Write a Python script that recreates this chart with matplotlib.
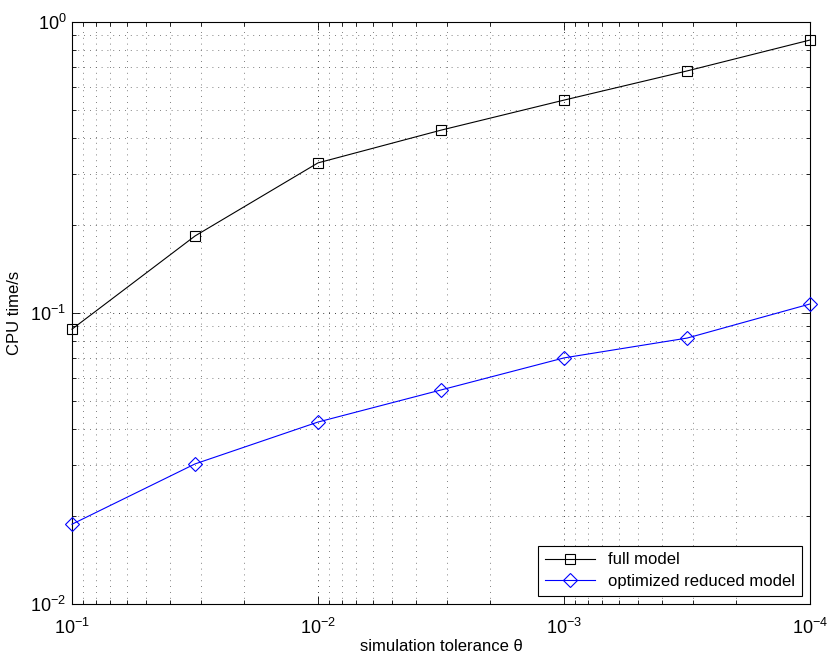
import matplotlib

matplotlib.use("Agg")
import matplotlib.pyplot as plt
from matplotlib.ticker import LogLocator, NullFormatter

plt.rcParams["font.family"] = ["Liberation Sans", "DejaVu Sans"]

# Simulation tolerance theta (x axis runs from 1e-1 down to 1e-4)
tolerance = [1e-1, 3.16e-2, 1e-2, 3.16e-3, 1e-3, 3.16e-4, 1e-4]
full_model = [0.088, 0.184, 0.328, 0.425, 0.539, 0.679, 0.867]
reduced_model = [0.0188, 0.0303, 0.0422, 0.0544, 0.0701, 0.0820, 0.1074]

fig = plt.figure(figsize=(8.31, 6.56), dpi=100)
ax = fig.add_axes([72 / 831, 1 - 604 / 656, (810 - 72) / 831, (604 - 22) / 656])

ax.plot(tolerance, full_model, color="black", linewidth=0.8, marker="s",
        markersize=7, markerfacecolor="none", markeredgecolor="black",
        markeredgewidth=0.8, label="full model", clip_on=False, zorder=3)
ax.plot(tolerance, reduced_model, color="blue", linewidth=0.8, marker="D",
        markersize=7, markerfacecolor="none", markeredgecolor="blue",
        markeredgewidth=0.8, label="optimized reduced model", clip_on=False,
        zorder=3)

ax.set_xscale("log")
ax.set_yscale("log")
ax.set_xlim(1e-1, 1e-4)
ax.set_ylim(1e-2, 1e0)

for axis in (ax.xaxis, ax.yaxis):
    axis.set_major_locator(LogLocator(base=10, numticks=10))
    axis.set_minor_locator(LogLocator(base=10, subs=range(2, 10), numticks=20))
    axis.set_minor_formatter(NullFormatter())

# MATLAB-like sparse dotted grid
ax.grid(True, which="major", linestyle=(0, (1, 6)), linewidth=0.6, color="black")
ax.grid(True, which="minor", linestyle=(0, (1, 6)), linewidth=0.6, color="#555555")

ax.tick_params(which="both", direction="in", top=True, right=True,
               labelsize=13, width=0.6, colors="black")
ax.tick_params(which="major", length=6)
ax.tick_params(axis="x", which="major", pad=10)
ax.tick_params(axis="y", which="major", pad=4)
ax.tick_params(which="minor", length=3)
for spine in ax.spines.values():
    spine.set_linewidth(0.8)

ax.set_xlabel("simulation tolerance θ", fontsize=12, labelpad=1)
ax.set_ylabel("CPU time/s", fontsize=12, labelpad=6)

leg = ax.legend(loc="lower right", fontsize=12, fancybox=False, framealpha=1,
                edgecolor="black", borderaxespad=0.5, handlelength=3,
                borderpad=0.4, labelspacing=0.4)
leg.get_frame().set_linewidth(0.8)

fig.savefig("out.png", dpi=100)
